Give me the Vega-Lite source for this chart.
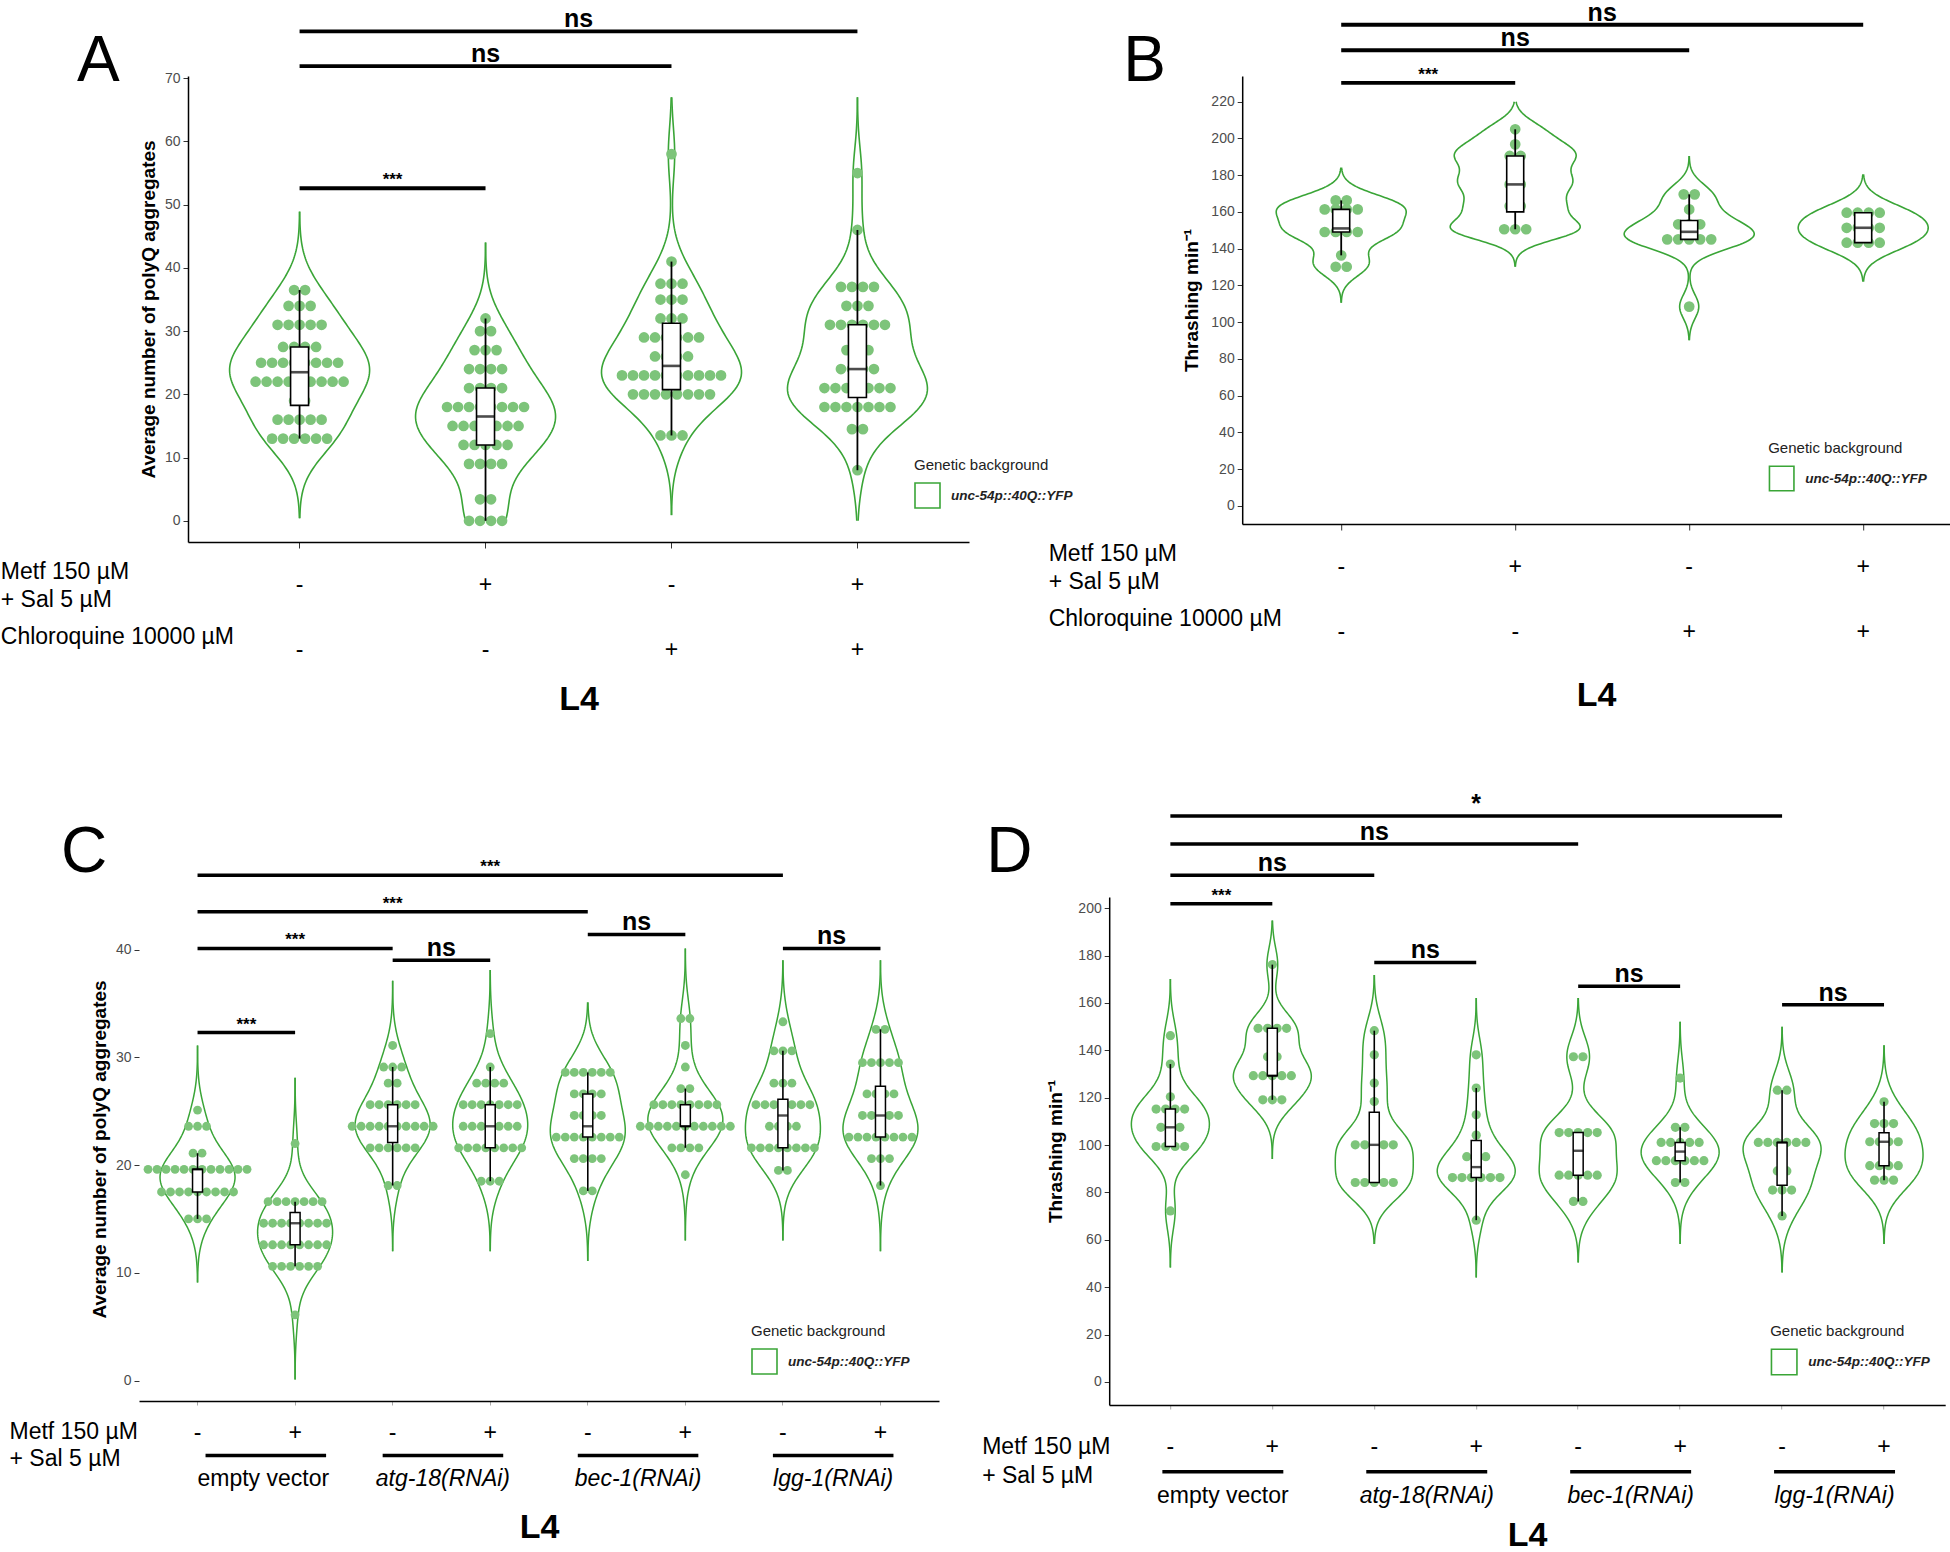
{
"$schema": "https://vega.github.io/schema/vega-lite/v6.json",
"background": "white",
"padding": 0,
"config": {
  "font": "Liberation Sans",
  "view": {"stroke": null},
  "axis": {"grid": false, "domainColor": "black", "domainWidth": 1.5, "tickColor": "#333333", "labelColor": "#4d4d4d", "titleColor": "black", "labelFont": "Liberation Sans", "titleFont": "Liberation Sans"},
  "legend": {"padding": 0}
},
"datasets": {
  "Aobs": [
    {"i":1,"v":13},{"i":1,"v":13},{"i":1,"v":13},{"i":1,"v":13},{"i":1,"v":13},{"i":1,"v":13},
    {"i":1,"v":16},{"i":1,"v":16},{"i":1,"v":16},{"i":1,"v":16},{"i":1,"v":16},
    {"i":1,"v":19},{"i":1,"v":19},
    {"i":1,"v":22},{"i":1,"v":22},{"i":1,"v":22},{"i":1,"v":22},{"i":1,"v":22},{"i":1,"v":22},{"i":1,"v":22},{"i":1,"v":22},{"i":1,"v":22},
    {"i":1,"v":25},{"i":1,"v":25},{"i":1,"v":25},{"i":1,"v":25},{"i":1,"v":25},{"i":1,"v":25},{"i":1,"v":25},{"i":1,"v":25},
    {"i":1,"v":27.5},{"i":1,"v":27.5},{"i":1,"v":27.5},{"i":1,"v":27.5},
    {"i":1,"v":31},{"i":1,"v":31},{"i":1,"v":31},{"i":1,"v":31},{"i":1,"v":31},
    {"i":1,"v":34},{"i":1,"v":34},{"i":1,"v":34},
    {"i":1,"v":36.5},{"i":1,"v":36.5},
    {"i":2,"v":0},{"i":2,"v":0},{"i":2,"v":0},{"i":2,"v":0},
    {"i":2,"v":3.4},{"i":2,"v":3.4},
    {"i":2,"v":9},{"i":2,"v":9},{"i":2,"v":9},{"i":2,"v":9},
    {"i":2,"v":12},{"i":2,"v":12},{"i":2,"v":12},{"i":2,"v":12},{"i":2,"v":12},
    {"i":2,"v":15},{"i":2,"v":15},{"i":2,"v":15},{"i":2,"v":15},{"i":2,"v":15},{"i":2,"v":15},{"i":2,"v":15},
    {"i":2,"v":18},{"i":2,"v":18},{"i":2,"v":18},{"i":2,"v":18},{"i":2,"v":18},{"i":2,"v":18},{"i":2,"v":18},{"i":2,"v":18},
    {"i":2,"v":21},{"i":2,"v":21},{"i":2,"v":21},{"i":2,"v":21},
    {"i":2,"v":24},{"i":2,"v":24},{"i":2,"v":24},{"i":2,"v":24},
    {"i":2,"v":27},{"i":2,"v":27},{"i":2,"v":27},
    {"i":2,"v":30},{"i":2,"v":30},
    {"i":2,"v":32},
    {"i":3,"v":13.5},{"i":3,"v":13.5},{"i":3,"v":13.5},
    {"i":3,"v":20},{"i":3,"v":20},{"i":3,"v":20},{"i":3,"v":20},{"i":3,"v":20},{"i":3,"v":20},{"i":3,"v":20},{"i":3,"v":20},
    {"i":3,"v":23},{"i":3,"v":23},{"i":3,"v":23},{"i":3,"v":23},{"i":3,"v":23},{"i":3,"v":23},{"i":3,"v":23},{"i":3,"v":23},{"i":3,"v":23},{"i":3,"v":23},
    {"i":3,"v":26},{"i":3,"v":26},{"i":3,"v":26},{"i":3,"v":26},
    {"i":3,"v":29},{"i":3,"v":29},{"i":3,"v":29},{"i":3,"v":29},{"i":3,"v":29},{"i":3,"v":29},
    {"i":3,"v":32},{"i":3,"v":32},{"i":3,"v":32},
    {"i":3,"v":35},{"i":3,"v":35},{"i":3,"v":35},
    {"i":3,"v":37.5},{"i":3,"v":37.5},{"i":3,"v":37.5},
    {"i":3,"v":41},
    {"i":3,"v":58},
    {"i":4,"v":8},
    {"i":4,"v":14.5},{"i":4,"v":14.5},
    {"i":4,"v":18},{"i":4,"v":18},{"i":4,"v":18},{"i":4,"v":18},{"i":4,"v":18},{"i":4,"v":18},{"i":4,"v":18},
    {"i":4,"v":21},{"i":4,"v":21},{"i":4,"v":21},{"i":4,"v":21},{"i":4,"v":21},{"i":4,"v":21},{"i":4,"v":21},
    {"i":4,"v":24},{"i":4,"v":24},{"i":4,"v":24},{"i":4,"v":24},
    {"i":4,"v":27},{"i":4,"v":27},{"i":4,"v":27},
    {"i":4,"v":31},{"i":4,"v":31},{"i":4,"v":31},{"i":4,"v":31},{"i":4,"v":31},{"i":4,"v":31},
    {"i":4,"v":34},{"i":4,"v":34},{"i":4,"v":34},
    {"i":4,"v":37},{"i":4,"v":37},{"i":4,"v":37},{"i":4,"v":37},
    {"i":4,"v":46},
    {"i":4,"v":55}
  ],
  "Bobs": [
    {"i":1,"v":130.2},{"i":1,"v":130.2},{"i":1,"v":136.4},
    {"i":1,"v":149.1},{"i":1,"v":149.1},{"i":1,"v":149.1},{"i":1,"v":149.1},{"i":1,"v":153},
    {"i":1,"v":161.4},{"i":1,"v":161.4},{"i":1,"v":161.4},{"i":1,"v":161.4},
    {"i":1,"v":166.3},{"i":1,"v":166.3},
    {"i":2,"v":150.6},{"i":2,"v":150.6},{"i":2,"v":150.6},
    {"i":2,"v":163.2},{"i":2,"v":163.2},{"i":2,"v":175},{"i":2,"v":175},{"i":2,"v":182},
    {"i":2,"v":190.5},{"i":2,"v":190.5},{"i":2,"v":196.8},{"i":2,"v":205},
    {"i":3,"v":108.5},
    {"i":3,"v":145.1},{"i":3,"v":145.1},{"i":3,"v":145.1},{"i":3,"v":145.1},{"i":3,"v":145.1},
    {"i":3,"v":153.3},{"i":3,"v":153.3},{"i":3,"v":153.3},
    {"i":3,"v":161.4},{"i":3,"v":169.6},{"i":3,"v":169.6},
    {"i":4,"v":143.3},{"i":4,"v":143.3},{"i":4,"v":143.3},{"i":4,"v":143.3},
    {"i":4,"v":151.4},{"i":4,"v":151.4},{"i":4,"v":151.4},{"i":4,"v":151.4},
    {"i":4,"v":159.6},{"i":4,"v":159.6},{"i":4,"v":159.6},{"i":4,"v":159.6}
  ],
  "Cobs": [
    {"i":1,"v":15},{"i":1,"v":15},{"i":1,"v":15},
    {"i":1,"v":17.5},{"i":1,"v":17.5},{"i":1,"v":17.5},{"i":1,"v":17.5},{"i":1,"v":17.5},{"i":1,"v":17.5},{"i":1,"v":17.5},{"i":1,"v":17.5},{"i":1,"v":17.5},
    {"i":1,"v":19.6},{"i":1,"v":19.6},{"i":1,"v":19.6},{"i":1,"v":19.6},{"i":1,"v":19.6},{"i":1,"v":19.6},{"i":1,"v":19.6},{"i":1,"v":19.6},{"i":1,"v":19.6},{"i":1,"v":19.6},{"i":1,"v":19.6},{"i":1,"v":19.6},
    {"i":1,"v":21.1},{"i":1,"v":21.1},
    {"i":1,"v":23.6},{"i":1,"v":23.6},{"i":1,"v":23.6},
    {"i":1,"v":25.1},
    {"i":2,"v":6.1},
    {"i":2,"v":10.6},{"i":2,"v":10.6},{"i":2,"v":10.6},{"i":2,"v":10.6},{"i":2,"v":10.6},{"i":2,"v":10.6},
    {"i":2,"v":12.6},{"i":2,"v":12.6},{"i":2,"v":12.6},{"i":2,"v":12.6},{"i":2,"v":12.6},{"i":2,"v":12.6},{"i":2,"v":12.6},{"i":2,"v":12.6},
    {"i":2,"v":14.6},{"i":2,"v":14.6},{"i":2,"v":14.6},{"i":2,"v":14.6},{"i":2,"v":14.6},{"i":2,"v":14.6},{"i":2,"v":14.6},{"i":2,"v":14.6},
    {"i":2,"v":16.6},{"i":2,"v":16.6},{"i":2,"v":16.6},{"i":2,"v":16.6},{"i":2,"v":16.6},{"i":2,"v":16.6},{"i":2,"v":16.6},
    {"i":2,"v":22},
    {"i":3,"v":18.1},{"i":3,"v":18.1},
    {"i":3,"v":21.6},{"i":3,"v":21.6},{"i":3,"v":21.6},{"i":3,"v":21.6},{"i":3,"v":21.6},{"i":3,"v":21.6},
    {"i":3,"v":23.6},{"i":3,"v":23.6},{"i":3,"v":23.6},{"i":3,"v":23.6},{"i":3,"v":23.6},{"i":3,"v":23.6},{"i":3,"v":23.6},{"i":3,"v":23.6},{"i":3,"v":23.6},{"i":3,"v":23.6},
    {"i":3,"v":25.6},{"i":3,"v":25.6},{"i":3,"v":25.6},{"i":3,"v":25.6},{"i":3,"v":25.6},{"i":3,"v":25.6},
    {"i":3,"v":27.6},{"i":3,"v":27.6},
    {"i":3,"v":29.1},{"i":3,"v":29.1},{"i":3,"v":29.1},
    {"i":3,"v":31.1},
    {"i":4,"v":18.5},{"i":4,"v":18.5},{"i":4,"v":18.5},
    {"i":4,"v":21.6},{"i":4,"v":21.6},{"i":4,"v":21.6},{"i":4,"v":21.6},{"i":4,"v":21.6},{"i":4,"v":21.6},{"i":4,"v":21.6},{"i":4,"v":21.6},
    {"i":4,"v":23.6},{"i":4,"v":23.6},{"i":4,"v":23.6},{"i":4,"v":23.6},{"i":4,"v":23.6},{"i":4,"v":23.6},{"i":4,"v":23.6},
    {"i":4,"v":25.6},{"i":4,"v":25.6},{"i":4,"v":25.6},{"i":4,"v":25.6},{"i":4,"v":25.6},{"i":4,"v":25.6},{"i":4,"v":25.6},
    {"i":4,"v":27.6},{"i":4,"v":27.6},{"i":4,"v":27.6},{"i":4,"v":27.6},
    {"i":4,"v":29.1},
    {"i":4,"v":32.2},
    {"i":5,"v":17.6},{"i":5,"v":17.6},
    {"i":5,"v":20.6},{"i":5,"v":20.6},{"i":5,"v":20.6},{"i":5,"v":20.6},
    {"i":5,"v":22.6},{"i":5,"v":22.6},{"i":5,"v":22.6},{"i":5,"v":22.6},{"i":5,"v":22.6},{"i":5,"v":22.6},{"i":5,"v":22.6},{"i":5,"v":22.6},
    {"i":5,"v":24.6},{"i":5,"v":24.6},{"i":5,"v":24.6},{"i":5,"v":24.6},
    {"i":5,"v":26.6},{"i":5,"v":26.6},{"i":5,"v":26.6},{"i":5,"v":26.6},
    {"i":5,"v":28.6},{"i":5,"v":28.6},{"i":5,"v":28.6},{"i":5,"v":28.6},{"i":5,"v":28.6},{"i":5,"v":28.6},
    {"i":6,"v":19.1},
    {"i":6,"v":21.6},{"i":6,"v":21.6},{"i":6,"v":21.6},{"i":6,"v":21.6},
    {"i":6,"v":23.6},{"i":6,"v":23.6},{"i":6,"v":23.6},{"i":6,"v":23.6},{"i":6,"v":23.6},{"i":6,"v":23.6},{"i":6,"v":23.6},{"i":6,"v":23.6},{"i":6,"v":23.6},{"i":6,"v":23.6},{"i":6,"v":23.6},
    {"i":6,"v":25.6},{"i":6,"v":25.6},{"i":6,"v":25.6},{"i":6,"v":25.6},{"i":6,"v":25.6},{"i":6,"v":25.6},{"i":6,"v":25.6},{"i":6,"v":25.6},
    {"i":6,"v":27.1},{"i":6,"v":27.1},
    {"i":6,"v":29.1},
    {"i":6,"v":31.1},
    {"i":6,"v":33.6},{"i":6,"v":33.6},
    {"i":7,"v":19.5},{"i":7,"v":19.5},
    {"i":7,"v":21.6},{"i":7,"v":21.6},{"i":7,"v":21.6},{"i":7,"v":21.6},{"i":7,"v":21.6},{"i":7,"v":21.6},{"i":7,"v":21.6},{"i":7,"v":21.6},
    {"i":7,"v":23.6},{"i":7,"v":23.6},{"i":7,"v":23.6},{"i":7,"v":23.6},
    {"i":7,"v":25.6},{"i":7,"v":25.6},{"i":7,"v":25.6},{"i":7,"v":25.6},{"i":7,"v":25.6},{"i":7,"v":25.6},{"i":7,"v":25.6},
    {"i":7,"v":27.6},{"i":7,"v":27.6},{"i":7,"v":27.6},
    {"i":7,"v":30.6},{"i":7,"v":30.6},{"i":7,"v":30.6},
    {"i":7,"v":33.3},
    {"i":8,"v":18.1},
    {"i":8,"v":20.6},{"i":8,"v":20.6},{"i":8,"v":20.6},
    {"i":8,"v":22.6},{"i":8,"v":22.6},{"i":8,"v":22.6},{"i":8,"v":22.6},{"i":8,"v":22.6},{"i":8,"v":22.6},{"i":8,"v":22.6},{"i":8,"v":22.6},
    {"i":8,"v":24.6},{"i":8,"v":24.6},{"i":8,"v":24.6},{"i":8,"v":24.6},{"i":8,"v":24.6},
    {"i":8,"v":26.6},{"i":8,"v":26.6},{"i":8,"v":26.6},{"i":8,"v":26.6},
    {"i":8,"v":29.5},{"i":8,"v":29.5},{"i":8,"v":29.5},{"i":8,"v":29.5},{"i":8,"v":29.5},
    {"i":8,"v":32.6},{"i":8,"v":32.6}
  ],
  "Dobs": [
    {"i":1,"v":72.2},
    {"i":1,"v":99.4},{"i":1,"v":99.4},{"i":1,"v":99.4},{"i":1,"v":99.4},
    {"i":1,"v":107.5},{"i":1,"v":107.5},{"i":1,"v":107.5},
    {"i":1,"v":115.2},{"i":1,"v":115.2},{"i":1,"v":115.2},{"i":1,"v":115.2},
    {"i":1,"v":120.4},{"i":1,"v":134.2},{"i":1,"v":146.2},
    {"i":2,"v":119.1},{"i":2,"v":119.1},{"i":2,"v":119.1},
    {"i":2,"v":129.3},{"i":2,"v":129.3},{"i":2,"v":129.3},{"i":2,"v":129.3},{"i":2,"v":129.3},
    {"i":2,"v":137.3},{"i":2,"v":137.3},
    {"i":2,"v":149.3},{"i":2,"v":149.3},{"i":2,"v":149.3},{"i":2,"v":149.3},
    {"i":2,"v":176.2},
    {"i":3,"v":84.2},{"i":3,"v":84.2},{"i":3,"v":84.2},{"i":3,"v":84.2},{"i":3,"v":84.2},
    {"i":3,"v":100.1},{"i":3,"v":100.1},{"i":3,"v":100.1},{"i":3,"v":100.1},{"i":3,"v":100.1},
    {"i":3,"v":118.4},{"i":3,"v":126.2},{"i":3,"v":138.1},{"i":3,"v":148.3},
    {"i":4,"v":68.3},
    {"i":4,"v":86.3},{"i":4,"v":86.3},{"i":4,"v":86.3},{"i":4,"v":86.3},{"i":4,"v":86.3},{"i":4,"v":86.3},
    {"i":4,"v":95.1},{"i":4,"v":95.1},{"i":4,"v":95.1},
    {"i":4,"v":104.2},{"i":4,"v":112.8},{"i":4,"v":124.1},{"i":4,"v":138.1},
    {"i":5,"v":76.2},{"i":5,"v":76.2},
    {"i":5,"v":87.3},{"i":5,"v":87.3},{"i":5,"v":87.3},{"i":5,"v":87.3},{"i":5,"v":87.3},
    {"i":5,"v":97.6},
    {"i":5,"v":105.3},{"i":5,"v":105.3},{"i":5,"v":105.3},{"i":5,"v":105.3},{"i":5,"v":105.3},
    {"i":5,"v":137.3},{"i":5,"v":137.3},
    {"i":6,"v":84.2},{"i":6,"v":84.2},
    {"i":6,"v":93.4},{"i":6,"v":93.4},{"i":6,"v":93.4},{"i":6,"v":93.4},{"i":6,"v":93.4},{"i":6,"v":93.4},
    {"i":6,"v":101.1},{"i":6,"v":101.1},{"i":6,"v":101.1},{"i":6,"v":101.1},{"i":6,"v":101.1},
    {"i":6,"v":107.5},{"i":6,"v":107.5},
    {"i":6,"v":128.3},
    {"i":7,"v":70.1},
    {"i":7,"v":81},{"i":7,"v":81},{"i":7,"v":81},
    {"i":7,"v":89.1},{"i":7,"v":89.1},
    {"i":7,"v":101.1},{"i":7,"v":101.1},{"i":7,"v":101.1},{"i":7,"v":101.1},{"i":7,"v":101.1},{"i":7,"v":101.1},
    {"i":7,"v":123.2},{"i":7,"v":123.2},
    {"i":8,"v":85.2},{"i":8,"v":85.2},{"i":8,"v":85.2},
    {"i":8,"v":91.3},{"i":8,"v":91.3},{"i":8,"v":91.3},{"i":8,"v":91.3},
    {"i":8,"v":101.4},{"i":8,"v":101.4},{"i":8,"v":101.4},{"i":8,"v":101.4},
    {"i":8,"v":109.1},{"i":8,"v":109.1},{"i":8,"v":109.1},
    {"i":8,"v":118.3}
  ],
  "Asig": [
    {"x1":1,"x2":2,"v":52.6,"lab":"***"},
    {"x1":1,"x2":3,"v":71.9,"lab":"ns"},
    {"x1":1,"x2":4,"v":77.4,"lab":"ns"}
  ],
  "Bsig": [
    {"x1":1,"x2":2,"v":230.3,"lab":"***"},
    {"x1":1,"x2":3,"v":248,"lab":"ns"},
    {"x1":1,"x2":4,"v":261.9,"lab":"ns"}
  ],
  "Csig": [
    {"x1":1,"x2":2,"v":32.3,"lab":"***"},
    {"x1":1,"x2":3,"v":40.1,"lab":"***"},
    {"x1":3,"x2":4,"v":39.0,"lab":"ns"},
    {"x1":1,"x2":5,"v":43.5,"lab":"***"},
    {"x1":5,"x2":6,"v":41.4,"lab":"ns"},
    {"x1":1,"x2":7,"v":46.9,"lab":"***"},
    {"x1":7,"x2":8,"v":40.1,"lab":"ns"}
  ],
  "Dsig": [
    {"x1":1,"x2":2,"v":201.9,"lab":"***"},
    {"x1":1,"x2":3,"v":213.9,"lab":"ns"},
    {"x1":1,"x2":5,"v":227.1,"lab":"ns"},
    {"x1":1,"x2":7,"v":238.9,"lab":"*"},
    {"x1":3,"x2":4,"v":177.1,"lab":"ns"},
    {"x1":5,"x2":6,"v":167.1,"lab":"ns"},
    {"x1":7,"x2":8,"v":159.3,"lab":"ns"}
  ],
  "ABtab": [
    {"i":1,"r":"metf","s":"-"},{"i":2,"r":"metf","s":"+"},{"i":3,"r":"metf","s":"-"},{"i":4,"r":"metf","s":"+"},
    {"i":1,"r":"chloro","s":"-"},{"i":2,"r":"chloro","s":"-"},{"i":3,"r":"chloro","s":"+"},{"i":4,"r":"chloro","s":"+"}
  ],
  "CDtab": [
    {"i":1,"r":"sign","s":"-"},{"i":2,"r":"sign","s":"+"},{"i":3,"r":"sign","s":"-"},{"i":4,"r":"sign","s":"+"},
    {"i":5,"r":"sign","s":"-"},{"i":6,"r":"sign","s":"+"},{"i":7,"r":"sign","s":"-"},{"i":8,"r":"sign","s":"+"}
  ],
  "CDgrp": [
    {"a":1,"b":2,"name":"empty vector"},
    {"a":3,"b":4,"name":"atg-18(RNAi)"},
    {"a":5,"b":6,"name":"bec-1(RNAi)"},
    {"a":7,"b":8,"name":"lgg-1(RNAi)"}
  ]
},
"columns": 1,
"spacing": 76,
"resolve": {"scale": {"stroke": "independent"}, "legend": {"stroke": "independent"}},
"concat": [
 {"columns": 2, "spacing": -24.8,
  "resolve": {"scale": {"stroke": "independent"}, "legend": {"stroke": "independent"}},
  "concat": [
  {"vconcat": [
   {"width": 830, "height": 466,
    "data": {"name": "Aobs"},
    "encoding": {"y": {"field": "v", "type": "quantitative", "scale": {"domain": [-3.35, 70.35], "nice": false, "zero": false}, "axis": {"offset": -49, "values": [0, 10, 20, 30, 40, 50, 60, 70], "title": "Average number of polyQ aggregates", "titleFontSize": 19, "titleFontWeight": "bold", "titlePadding": 6, "labelFontSize": 14, "tickSize": 5, "labelPadding": 3}}},
    "resolve": {"scale": {"x": "independent"}},
    "layer": [
     {"encoding": {"x": {"field": "i", "type": "ordinal", "scale": {"type": "band", "domain": [1, 2, 3, 4], "range": [49, 830], "paddingInner": 0, "paddingOuter": 0.1}, "axis": {"labels": false, "title": null, "tickSize": 6}}},
      "resolve": {"scale": {"xOffset": "independent"}},
      "layer": [
       {"transform": [{"filter": "datum.i == 1"}, {"density": "v", "groupby": ["i"], "bandwidth": 4.2, "extent": [0.4, 48.9], "steps": 150, "as": ["v", "d"]}, {"stack": "d", "groupby": ["i", "v"], "offset": "center", "as": ["s0", "s1"]}, {"fold": ["s0", "s1"], "as": ["side", "off"]}],
        "mark": {"type": "line", "strokeWidth": 1.6},
        "encoding": {"xOffset": {"field": "off", "type": "quantitative", "scale": {"range": [23, 163], "nice": false, "zero": false}},
         "detail": {"field": "side"}, "order": {"field": "v", "type": "quantitative"},
         "stroke": {"datum": "unc-54p::40Q::YFP", "type": "nominal", "scale": {"range": ["#3aa537"]},
          "legend": {"title": "Genetic background", "orient": "none", "legendX": 775, "legendY": 382, "symbolType": "square", "symbolSize": 625, "symbolStrokeWidth": 1.6, "symbolFillColor": "white", "symbolStrokeColor": "#3aa537", "titleFontSize": 15, "titleFontWeight": "normal", "titleColor": "#222222", "titlePadding": 9, "labelFontSize": 13.5, "labelFontWeight": "bold", "labelFontStyle": "italic", "labelColor": "#222222", "labelOffset": 10, "padding": 0}}}},
       {"transform": [{"filter": "datum.i == 2"}, {"density": "v", "groupby": ["i"], "bandwidth": 4.0, "extent": [0, 44], "steps": 150, "as": ["v", "d"]}, {"stack": "d", "groupby": ["i", "v"], "offset": "center", "as": ["s0", "s1"]}, {"fold": ["s0", "s1"], "as": ["side", "off"]}],
        "mark": {"type": "line", "strokeWidth": 1.6, "stroke": "#3aa537"},
        "encoding": {"xOffset": {"field": "off", "type": "quantitative", "scale": {"range": [23, 163], "nice": false, "zero": false}}, "detail": {"field": "side"}, "order": {"field": "v", "type": "quantitative"}}},
       {"transform": [{"filter": "datum.i == 3"}, {"density": "v", "groupby": ["i"], "bandwidth": 4.2, "extent": [0.9, 67], "steps": 150, "as": ["v", "d"]}, {"stack": "d", "groupby": ["i", "v"], "offset": "center", "as": ["s0", "s1"]}, {"fold": ["s0", "s1"], "as": ["side", "off"]}],
        "mark": {"type": "line", "strokeWidth": 1.6, "stroke": "#3aa537"},
        "encoding": {"xOffset": {"field": "off", "type": "quantitative", "scale": {"range": [23, 163], "nice": false, "zero": false}}, "detail": {"field": "side"}, "order": {"field": "v", "type": "quantitative"}}},
       {"transform": [{"filter": "datum.i == 4"}, {"density": "v", "groupby": ["i"], "bandwidth": 4.2, "extent": [0, 67], "steps": 150, "as": ["v", "d"]}, {"stack": "d", "groupby": ["i", "v"], "offset": "center", "as": ["s0", "s1"]}, {"fold": ["s0", "s1"], "as": ["side", "off"]}],
        "mark": {"type": "line", "strokeWidth": 1.6, "stroke": "#3aa537"},
        "encoding": {"xOffset": {"field": "off", "type": "quantitative", "scale": {"range": [23, 163], "nice": false, "zero": false}}, "detail": {"field": "side"}, "order": {"field": "v", "type": "quantitative"}}},
       {"transform": [{"window": [{"op": "count", "as": "one"}], "frame": [0, 0]}, {"stack": "one", "groupby": ["i", "v"], "offset": "center", "as": ["d0", "d1"]}],
        "mark": {"type": "circle", "size": 115, "color": "#7dc47a", "opacity": 1},
        "encoding": {"xOffset": {"field": "d0", "type": "quantitative", "scale": {"domain": [0, 20], "range": [43.5, 263.5], "nice": false, "zero": false}}}},
       {"mark": {"type": "boxplot", "extent": 1.5, "size": 18, "color": "white", "outliers": false, "ticks": false, "box": {"stroke": "black", "strokeWidth": 1.6, "fill": "white"}, "median": {"color": "black", "thickness": 2.6}, "rule": {"color": "black", "strokeWidth": 1.8}}}
      ]},
     {"layer": [
       {"data": {"name": "Asig"}, "mark": {"type": "rule", "strokeWidth": 3.8, "color": "black"},
        "encoding": {"x": {"field": "x1", "type": "quantitative", "scale": {"domain": [0.4, 4.6], "range": [49, 830], "nice": false, "zero": false}, "axis": null}, "x2": {"field": "x2"}}},
       {"data": {"name": "Asig"}, "transform": [{"fold": ["x1", "x2"], "as": ["k", "xv"]}, {"aggregate": [{"op": "mean", "field": "xv", "as": "xm"}], "groupby": ["v", "lab"]}],
        "mark": {"type": "text", "baseline": "bottom", "fontWeight": "bold", "color": "black", "dy": 1},
        "encoding": {"x": {"field": "xm", "type": "quantitative"}, "text": {"field": "lab"}, "size": {"condition": {"test": "datum.lab == '***'", "value": 17}, "value": 25}}},
       {"data": {"name": "Asig"}, "transform": [{"aggregate": [{"op": "min", "field": "x1", "as": "xa"}, {"op": "max", "field": "v", "as": "v"}]}],
        "mark": {"type": "text", "align": "left", "baseline": "alphabetic", "fontSize": 64, "color": "black", "dx": -222.6, "dy": 49.6},
        "encoding": {"x": {"field": "xa", "type": "quantitative"}, "text": {"value": "A"}}}
      ]}
    ]},
   {"width": 830, "height": 130, "data": {"name": "ABtab"},
    "mark": {"type": "text", "fontSize": 23, "color": "black"},
    "encoding": {
     "x": {"field": "i", "type": "quantitative", "scale": {"domain": [0.4, 4.6], "range": [49, 830], "nice": false, "zero": false}, "axis": {"title": "L4", "labels": false, "ticks": false, "domain": false, "titleFontSize": 34, "titleFontWeight": "bold", "titleColor": "black", "titlePadding": 0}},
     "y": {"field": "r", "type": "nominal", "scale": {"domain": ["metf", "chloro"], "paddingInner": 0, "paddingOuter": 0}, "axis": {"title": null, "domain": false, "ticks": false, "labelAlign": "left", "labelPadding": 138.7, "labelOffset": -13, "labelFontSize": 23, "labelColor": "black", "labelLimit": 400, "labelLineHeight": 28, "labelExpr": "datum.value == 'metf' ? ['Metf 150 µM', '+ Sal 5 µM'] : 'Chloroquine 10000 µM'"}},
     "text": {"field": "s"}}}
  ], "spacing": 3},
  {"vconcat": [
   {"width": 708, "height": 448,
    "data": {"name": "Bobs"},
    "encoding": {"y": {"field": "v", "type": "quantitative", "scale": {"domain": [-9.8, 234.0], "nice": false, "zero": false}, "axis": {"values": [0, 20, 40, 60, 80, 100, 120, 140, 160, 180, 200, 220], "title": "Thrashing min⁻¹", "titleFontSize": 19, "titleFontWeight": "bold", "titlePadding": 9, "labelFontSize": 14, "tickSize": 5, "labelPadding": 3}}},
    "resolve": {"scale": {"x": "independent"}},
    "layer": [
     {"encoding": {"x": {"field": "i", "type": "ordinal", "scale": {"type": "band", "domain": [1, 2, 3, 4], "paddingInner": 0, "paddingOuter": 0.0345, "align": 1}, "axis": {"labels": false, "title": null, "tickSize": 6}}},
      "resolve": {"scale": {"xOffset": "independent"}},
      "layer": [
       {"transform": [{"filter": "datum.i == 1"}, {"density": "v", "groupby": ["i"], "bandwidth": 6.2, "extent": [110.6, 184.1], "steps": 150, "as": ["v", "d"]}, {"stack": "d", "groupby": ["i", "v"], "offset": "center", "as": ["s0", "s1"]}, {"fold": ["s0", "s1"], "as": ["side", "off"]}],
        "mark": {"type": "line", "strokeWidth": 1.6},
        "encoding": {"xOffset": {"field": "off", "type": "quantitative", "scale": {"range": [22, 152], "nice": false, "zero": false}},
         "detail": {"field": "side"}, "order": {"field": "v", "type": "quantitative"},
         "stroke": {"datum": "unc-54p::40Q::YFP", "type": "nominal", "scale": {"range": ["#3aa537"]},
          "legend": {"title": "Genetic background", "orient": "none", "legendX": 526, "legendY": 365, "symbolType": "square", "symbolSize": 600, "symbolStrokeWidth": 1.6, "symbolFillColor": "white", "symbolStrokeColor": "#3aa537", "titleFontSize": 15, "titleFontWeight": "normal", "titleColor": "#222222", "titlePadding": 9, "labelFontSize": 13.5, "labelFontWeight": "bold", "labelFontStyle": "italic", "labelColor": "#222222", "labelOffset": 10, "padding": 0}}}},
       {"transform": [{"filter": "datum.i == 2"}, {"density": "v", "groupby": ["i"], "bandwidth": 6.0, "extent": [130.2, 220], "steps": 150, "as": ["v", "d"]}, {"stack": "d", "groupby": ["i", "v"], "offset": "center", "as": ["s0", "s1"]}, {"fold": ["s0", "s1"], "as": ["side", "off"]}],
        "mark": {"type": "line", "strokeWidth": 1.6, "stroke": "#3aa537"},
        "encoding": {"xOffset": {"field": "off", "type": "quantitative", "scale": {"range": [22, 152], "nice": false, "zero": false}}, "detail": {"field": "side"}, "order": {"field": "v", "type": "quantitative"}}},
       {"transform": [{"filter": "datum.i == 3"}, {"density": "v", "groupby": ["i"], "bandwidth": 6.5, "extent": [90.2, 190.5], "steps": 150, "as": ["v", "d"]}, {"stack": "d", "groupby": ["i", "v"], "offset": "center", "as": ["s0", "s1"]}, {"fold": ["s0", "s1"], "as": ["side", "off"]}],
        "mark": {"type": "line", "strokeWidth": 1.6, "stroke": "#3aa537"},
        "encoding": {"xOffset": {"field": "off", "type": "quantitative", "scale": {"range": [22, 152], "nice": false, "zero": false}}, "detail": {"field": "side"}, "order": {"field": "v", "type": "quantitative"}}},
       {"transform": [{"filter": "datum.i == 4"}, {"density": "v", "groupby": ["i"], "bandwidth": 7.0, "extent": [122.1, 180.5], "steps": 150, "as": ["v", "d"]}, {"stack": "d", "groupby": ["i", "v"], "offset": "center", "as": ["s0", "s1"]}, {"fold": ["s0", "s1"], "as": ["side", "off"]}],
        "mark": {"type": "line", "strokeWidth": 1.6, "stroke": "#3aa537"},
        "encoding": {"xOffset": {"field": "off", "type": "quantitative", "scale": {"range": [22, 152], "nice": false, "zero": false}}, "detail": {"field": "side"}, "order": {"field": "v", "type": "quantitative"}}},
       {"transform": [{"window": [{"op": "count", "as": "one"}], "frame": [0, 0]}, {"stack": "one", "groupby": ["i", "v"], "offset": "center", "as": ["d0", "d1"]}],
        "mark": {"type": "circle", "size": 115, "color": "#7dc47a", "opacity": 1},
        "encoding": {"xOffset": {"field": "d0", "type": "quantitative", "scale": {"domain": [0, 20], "range": [65, 285], "nice": false, "zero": false}}}},
       {"mark": {"type": "boxplot", "extent": 1.5, "size": 17, "color": "white", "outliers": false, "ticks": false, "box": {"stroke": "black", "strokeWidth": 1.6, "fill": "white"}, "median": {"color": "black", "thickness": 2.6}, "rule": {"color": "black", "strokeWidth": 1.8}}}
      ]},
     {"layer": [
       {"data": {"name": "Bsig"}, "mark": {"type": "rule", "strokeWidth": 3.8, "color": "black"},
        "encoding": {"x": {"field": "x1", "type": "quantitative", "scale": {"domain": [0.431, 4.5], "nice": false, "zero": false}, "axis": null}, "x2": {"field": "x2"}}},
       {"data": {"name": "Bsig"}, "transform": [{"fold": ["x1", "x2"], "as": ["k", "xv"]}, {"aggregate": [{"op": "mean", "field": "xv", "as": "xm"}], "groupby": ["v", "lab"]}],
        "mark": {"type": "text", "baseline": "bottom", "fontWeight": "bold", "color": "black", "dy": 1},
        "encoding": {"x": {"field": "xm", "type": "quantitative"}, "text": {"field": "lab"}, "size": {"condition": {"test": "datum.lab == '***'", "value": 17}, "value": 25}}},
       {"data": {"name": "Bsig"}, "transform": [{"aggregate": [{"op": "min", "field": "x1", "as": "xa"}, {"op": "max", "field": "v", "as": "v"}]}],
        "mark": {"type": "text", "align": "left", "baseline": "alphabetic", "fontSize": 64, "color": "black", "dx": -218, "dy": 56.2},
        "encoding": {"x": {"field": "xa", "type": "quantitative"}, "text": {"value": "B"}}}
      ]}
    ]},
   {"width": 708, "height": 130, "data": {"name": "ABtab"},
    "mark": {"type": "text", "fontSize": 23, "color": "black"},
    "encoding": {
     "x": {"field": "i", "type": "quantitative", "scale": {"domain": [0.431, 4.5], "nice": false, "zero": false}, "axis": {"title": "L4", "labels": false, "ticks": false, "domain": false, "titleFontSize": 34, "titleFontWeight": "bold", "titleColor": "black", "titlePadding": 14}},
     "y": {"field": "r", "type": "nominal", "scale": {"domain": ["metf", "chloro"], "paddingInner": 0, "paddingOuter": 0}, "axis": {"title": null, "domain": false, "ticks": false, "labelAlign": "left", "labelPadding": 194, "labelOffset": -14, "labelFontSize": 23, "labelColor": "black", "labelLimit": 400, "labelLineHeight": 28, "labelExpr": "datum.value == 'metf' ? ['Metf 150 µM', '+ Sal 5 µM'] : 'Chloroquine 10000 µM'"}},
     "text": {"field": "s"}}}
  ], "spacing": 3.5}
 ]},
 {"columns": 2, "spacing": 42.2,
  "resolve": {"scale": {"stroke": "independent"}, "legend": {"stroke": "independent"}},
  "concat": [
  {"vconcat": [
   {"width": 800, "height": 504,
    "data": {"name": "Cobs"},
    "encoding": {"y": {"field": "v", "type": "quantitative", "scale": {"domain": [-1.9, 44.88], "nice": false, "zero": false}, "axis": {"domain": false, "values": [0, 10, 20, 30, 40], "title": "Average number of polyQ aggregates", "titleFontSize": 19, "titleFontWeight": "bold", "titlePadding": 6, "labelFontSize": 14, "tickSize": 5, "labelPadding": 3}}},
    "resolve": {"scale": {"x": "independent"}},
    "layer": [
     {"encoding": {"x": {"field": "i", "type": "ordinal", "scale": {"type": "band", "domain": [1, 2, 3, 4, 5, 6, 7, 8], "paddingInner": 0, "paddingOuter": 0.1}, "axis": {"labels": false, "title": null, "tickSize": 4, "tickColor": "#aaaaaa"}}},
      "resolve": {"scale": {"xOffset": "independent"}},
      "layer": [
       {"transform": [{"filter": "datum.i == 1"}, {"density": "v", "groupby": ["i"], "bandwidth": 2.0, "extent": [9.1, 31.1], "steps": 150, "as": ["v", "d"]}, {"stack": "d", "groupby": ["i", "v"], "offset": "center", "as": ["s0", "s1"]}, {"fold": ["s0", "s1"], "as": ["side", "off"]}],
        "mark": {"type": "line", "strokeWidth": 1.5},
        "encoding": {"xOffset": {"field": "off", "type": "quantitative", "scale": {"range": [11.28, 86.28], "nice": false, "zero": false}},
         "detail": {"field": "side"}, "order": {"field": "v", "type": "quantitative"},
         "stroke": {"datum": "unc-54p::40Q::YFP", "type": "nominal", "scale": {"range": ["#3aa537"]},
          "legend": {"title": "Genetic background", "orient": "none", "legendX": 612, "legendY": 427, "symbolType": "square", "symbolSize": 625, "symbolStrokeWidth": 1.6, "symbolFillColor": "white", "symbolStrokeColor": "#3aa537", "titleFontSize": 15, "titleFontWeight": "normal", "titleColor": "#222222", "titlePadding": 9, "labelFontSize": 13.5, "labelFontWeight": "bold", "labelFontStyle": "italic", "labelColor": "#222222", "labelOffset": 10, "padding": 0}}}},
       {"transform": [{"filter": "datum.i == 2"}, {"density": "v", "groupby": ["i"], "bandwidth": 2.0, "extent": [0.1, 28.1], "steps": 150, "as": ["v", "d"]}, {"stack": "d", "groupby": ["i", "v"], "offset": "center", "as": ["s0", "s1"]}, {"fold": ["s0", "s1"], "as": ["side", "off"]}],
        "mark": {"type": "line", "strokeWidth": 1.5, "stroke": "#3aa537"},
        "encoding": {"xOffset": {"field": "off", "type": "quantitative", "scale": {"range": [11.28, 86.28], "nice": false, "zero": false}}, "detail": {"field": "side"}, "order": {"field": "v", "type": "quantitative"}}},
       {"transform": [{"filter": "datum.i == 3"}, {"density": "v", "groupby": ["i"], "bandwidth": 2.0, "extent": [12.0, 37.1], "steps": 150, "as": ["v", "d"]}, {"stack": "d", "groupby": ["i", "v"], "offset": "center", "as": ["s0", "s1"]}, {"fold": ["s0", "s1"], "as": ["side", "off"]}],
        "mark": {"type": "line", "strokeWidth": 1.5, "stroke": "#3aa537"},
        "encoding": {"xOffset": {"field": "off", "type": "quantitative", "scale": {"range": [11.28, 86.28], "nice": false, "zero": false}}, "detail": {"field": "side"}, "order": {"field": "v", "type": "quantitative"}}},
       {"transform": [{"filter": "datum.i == 4"}, {"density": "v", "groupby": ["i"], "bandwidth": 2.1, "extent": [12.0, 38.1], "steps": 150, "as": ["v", "d"]}, {"stack": "d", "groupby": ["i", "v"], "offset": "center", "as": ["s0", "s1"]}, {"fold": ["s0", "s1"], "as": ["side", "off"]}],
        "mark": {"type": "line", "strokeWidth": 1.5, "stroke": "#3aa537"},
        "encoding": {"xOffset": {"field": "off", "type": "quantitative", "scale": {"range": [11.28, 86.28], "nice": false, "zero": false}}, "detail": {"field": "side"}, "order": {"field": "v", "type": "quantitative"}}},
       {"transform": [{"filter": "datum.i == 5"}, {"density": "v", "groupby": ["i"], "bandwidth": 2.2, "extent": [11.1, 35.1], "steps": 150, "as": ["v", "d"]}, {"stack": "d", "groupby": ["i", "v"], "offset": "center", "as": ["s0", "s1"]}, {"fold": ["s0", "s1"], "as": ["side", "off"]}],
        "mark": {"type": "line", "strokeWidth": 1.5, "stroke": "#3aa537"},
        "encoding": {"xOffset": {"field": "off", "type": "quantitative", "scale": {"range": [11.28, 86.28], "nice": false, "zero": false}}, "detail": {"field": "side"}, "order": {"field": "v", "type": "quantitative"}}},
       {"transform": [{"filter": "datum.i == 6"}, {"density": "v", "groupby": ["i"], "bandwidth": 2.1, "extent": [13.0, 40.1], "steps": 150, "as": ["v", "d"]}, {"stack": "d", "groupby": ["i", "v"], "offset": "center", "as": ["s0", "s1"]}, {"fold": ["s0", "s1"], "as": ["side", "off"]}],
        "mark": {"type": "line", "strokeWidth": 1.5, "stroke": "#3aa537"},
        "encoding": {"xOffset": {"field": "off", "type": "quantitative", "scale": {"range": [11.28, 86.28], "nice": false, "zero": false}}, "detail": {"field": "side"}, "order": {"field": "v", "type": "quantitative"}}},
       {"transform": [{"filter": "datum.i == 7"}, {"density": "v", "groupby": ["i"], "bandwidth": 2.1, "extent": [13.0, 39.0], "steps": 150, "as": ["v", "d"]}, {"stack": "d", "groupby": ["i", "v"], "offset": "center", "as": ["s0", "s1"]}, {"fold": ["s0", "s1"], "as": ["side", "off"]}],
        "mark": {"type": "line", "strokeWidth": 1.5, "stroke": "#3aa537"},
        "encoding": {"xOffset": {"field": "off", "type": "quantitative", "scale": {"range": [11.28, 86.28], "nice": false, "zero": false}}, "detail": {"field": "side"}, "order": {"field": "v", "type": "quantitative"}}},
       {"transform": [{"filter": "datum.i == 8"}, {"density": "v", "groupby": ["i"], "bandwidth": 2.1, "extent": [12.0, 39.0], "steps": 150, "as": ["v", "d"]}, {"stack": "d", "groupby": ["i", "v"], "offset": "center", "as": ["s0", "s1"]}, {"fold": ["s0", "s1"], "as": ["side", "off"]}],
        "mark": {"type": "line", "strokeWidth": 1.5, "stroke": "#3aa537"},
        "encoding": {"xOffset": {"field": "off", "type": "quantitative", "scale": {"range": [11.28, 86.28], "nice": false, "zero": false}}, "detail": {"field": "side"}, "order": {"field": "v", "type": "quantitative"}}},
       {"transform": [{"window": [{"op": "count", "as": "one"}], "frame": [0, 0]}, {"stack": "one", "groupby": ["i", "v"], "offset": "center", "as": ["d0", "d1"]}],
        "mark": {"type": "circle", "size": 78, "color": "#7dc47a", "opacity": 1},
        "encoding": {"xOffset": {"field": "d0", "type": "quantitative", "scale": {"domain": [0, 20], "range": [-0.72, 179.28], "nice": false, "zero": false}}}},
       {"mark": {"type": "boxplot", "extent": 1.5, "size": 10, "color": "white", "outliers": false, "ticks": false, "box": {"stroke": "black", "strokeWidth": 1.5, "fill": "white"}, "median": {"color": "black", "thickness": 2.4}, "rule": {"color": "black", "strokeWidth": 1.6}}}
      ]},
     {"layer": [
       {"data": {"name": "Csig"}, "mark": {"type": "rule", "strokeWidth": 3.5, "color": "black"},
        "encoding": {"x": {"field": "x1", "type": "quantitative", "scale": {"domain": [0.4, 8.6], "nice": false, "zero": false}, "axis": null}, "x2": {"field": "x2"}}},
       {"data": {"name": "Csig"}, "transform": [{"fold": ["x1", "x2"], "as": ["k", "xv"]}, {"aggregate": [{"op": "mean", "field": "xv", "as": "xm"}], "groupby": ["v", "lab"]}],
        "mark": {"type": "text", "baseline": "bottom", "fontWeight": "bold", "color": "black", "dy": 1},
        "encoding": {"x": {"field": "xm", "type": "quantitative"}, "text": {"field": "lab"}, "size": {"condition": {"test": "datum.lab == '***'", "value": 17}, "value": 25}}},
       {"data": {"values": [{"panel": "C"}]},
        "mark": {"type": "rule", "color": "black", "strokeWidth": 1.5},
        "encoding": {"x": {"datum": 0.4, "type": "quantitative"}, "y": {"datum": -1.9, "type": "quantitative"}, "y2": {"datum": 42}}},
       {"data": {"name": "Csig"}, "transform": [{"aggregate": [{"op": "min", "field": "x1", "as": "xa"}, {"op": "max", "field": "v", "as": "v"}]}],
        "mark": {"type": "text", "align": "left", "baseline": "alphabetic", "fontSize": 64, "color": "black", "dx": -136.5, "dy": -3.2},
        "encoding": {"x": {"field": "xa", "type": "quantitative"}, "text": {"value": "C"}}}
      ]}
    ]},
   {"width": 800, "height": 69,
    "layer": [
     {"data": {"name": "CDtab"}, "mark": {"type": "text", "fontSize": 23, "color": "black"},
      "encoding": {
       "x": {"field": "i", "type": "quantitative", "scale": {"domain": [0.4, 8.6], "nice": false, "zero": false}, "axis": {"title": "L4", "labels": false, "ticks": false, "domain": false, "titleFontSize": 34, "titleFontWeight": "bold", "titleColor": "black", "titlePadding": 20}},
       "y": {"field": "r", "type": "nominal", "scale": {"domain": ["sign", "ul", "name"], "paddingInner": 0, "paddingOuter": 0}, "axis": {"title": null, "domain": false, "ticks": false, "labelAlign": "left", "labelPadding": 130, "labelOffset": -1, "labelFontSize": 23, "labelColor": "black", "labelLimit": 400, "labelLineHeight": 27, "labelExpr": "datum.value == 'sign' ? ['Metf 150 µM', '+ Sal 5 µM'] : ''"}},
       "text": {"field": "s"}}},
     {"data": {"name": "CDgrp"}, "transform": [{"filter": "datum.name == 'empty vector'"}],
      "mark": {"type": "rule", "strokeWidth": 3.5, "color": "black", "xOffset": 8, "x2Offset": 31},
      "encoding": {"x": {"field": "a", "type": "quantitative"}, "x2": {"field": "b"}, "y": {"datum": "ul", "type": "nominal"}}},
     {"data": {"name": "CDgrp"}, "transform": [{"filter": "datum.name != 'empty vector'"}],
      "mark": {"type": "rule", "strokeWidth": 3.5, "color": "black", "xOffset": -10, "x2Offset": 13},
      "encoding": {"x": {"field": "a", "type": "quantitative"}, "x2": {"field": "b"}, "y": {"datum": "ul", "type": "nominal"}}},
     {"data": {"name": "CDgrp"}, "transform": [{"filter": "datum.name == 'empty vector'"}, {"fold": ["a", "b"], "as": ["k", "xv"]}, {"aggregate": [{"op": "mean", "field": "xv", "as": "xm"}], "groupby": ["name"]}],
      "mark": {"type": "text", "fontSize": 23, "color": "black", "dx": 17},
      "encoding": {"x": {"field": "xm", "type": "quantitative"}, "y": {"datum": "name", "type": "nominal"}, "text": {"field": "name"}}},
     {"data": {"name": "CDgrp"}, "transform": [{"filter": "datum.name != 'empty vector'"}, {"fold": ["a", "b"], "as": ["k", "xv"]}, {"aggregate": [{"op": "mean", "field": "xv", "as": "xm"}], "groupby": ["name"]}],
      "mark": {"type": "text", "fontSize": 23, "color": "black", "fontStyle": "italic", "dx": 1.5},
      "encoding": {"x": {"field": "xm", "type": "quantitative"}, "y": {"datum": "name", "type": "nominal"}, "text": {"field": "name"}}}
    ]}
  ], "spacing": 14},
  {"vconcat": [
   {"width": 836, "height": 508,
    "data": {"name": "Dobs"},
    "encoding": {"y": {"field": "v", "type": "quantitative", "scale": {"domain": [-9.75, 204.75], "nice": false, "zero": false}, "axis": {"values": [0, 20, 40, 60, 80, 100, 120, 140, 160, 180, 200], "title": "Thrashing min⁻¹", "titleFontSize": 19, "titleFontWeight": "bold", "titlePadding": 12, "labelFontSize": 14, "tickSize": 5, "labelPadding": 3}}},
    "resolve": {"scale": {"x": "independent"}},
    "layer": [
     {"encoding": {"x": {"field": "i", "type": "ordinal", "scale": {"type": "band", "domain": [1, 2, 3, 4, 5, 6, 7, 8], "paddingInner": 0, "paddingOuter": 0.1}, "axis": {"labels": false, "title": null, "tickSize": 4, "tickColor": "#aaaaaa"}}},
      "resolve": {"scale": {"xOffset": "independent"}},
      "layer": [
       {"transform": [{"filter": "datum.i == 1"}, {"density": "v", "groupby": ["i"], "bandwidth": 8.0, "extent": [48.3, 170.1], "steps": 150, "as": ["v", "d"]}, {"stack": "d", "groupby": ["i", "v"], "offset": "center", "as": ["s0", "s1"]}, {"fold": ["s0", "s1"], "as": ["side", "off"]}],
        "mark": {"type": "line", "strokeWidth": 1.5},
        "encoding": {"xOffset": {"field": "off", "type": "quantitative", "scale": {"range": [11.98, 89.98], "nice": false, "zero": false}},
         "detail": {"field": "side"}, "order": {"field": "v", "type": "quantitative"},
         "stroke": {"datum": "unc-54p::40Q::YFP", "type": "nominal", "scale": {"range": ["#3aa537"]},
          "legend": {"title": "Genetic background", "orient": "none", "legendX": 661, "legendY": 427, "symbolType": "square", "symbolSize": 650, "symbolStrokeWidth": 1.6, "symbolFillColor": "white", "symbolStrokeColor": "#3aa537", "titleFontSize": 15, "titleFontWeight": "normal", "titleColor": "#222222", "titlePadding": 9, "labelFontSize": 13.5, "labelFontWeight": "bold", "labelFontStyle": "italic", "labelColor": "#222222", "labelOffset": 10, "padding": 0}}}},
       {"transform": [{"filter": "datum.i == 2"}, {"density": "v", "groupby": ["i"], "bandwidth": 7.2, "extent": [94.1, 194.8], "steps": 150, "as": ["v", "d"]}, {"stack": "d", "groupby": ["i", "v"], "offset": "center", "as": ["s0", "s1"]}, {"fold": ["s0", "s1"], "as": ["side", "off"]}],
        "mark": {"type": "line", "strokeWidth": 1.5, "stroke": "#3aa537"},
        "encoding": {"xOffset": {"field": "off", "type": "quantitative", "scale": {"range": [11.98, 89.98], "nice": false, "zero": false}}, "detail": {"field": "side"}, "order": {"field": "v", "type": "quantitative"}}},
       {"transform": [{"filter": "datum.i == 3"}, {"density": "v", "groupby": ["i"], "bandwidth": 8.2, "extent": [58.2, 171.8], "steps": 150, "as": ["v", "d"]}, {"stack": "d", "groupby": ["i", "v"], "offset": "center", "as": ["s0", "s1"]}, {"fold": ["s0", "s1"], "as": ["side", "off"]}],
        "mark": {"type": "line", "strokeWidth": 1.5, "stroke": "#3aa537"},
        "encoding": {"xOffset": {"field": "off", "type": "quantitative", "scale": {"range": [11.98, 89.98], "nice": false, "zero": false}}, "detail": {"field": "side"}, "order": {"field": "v", "type": "quantitative"}}},
       {"transform": [{"filter": "datum.i == 4"}, {"density": "v", "groupby": ["i"], "bandwidth": 8.0, "extent": [44.1, 162.1], "steps": 150, "as": ["v", "d"]}, {"stack": "d", "groupby": ["i", "v"], "offset": "center", "as": ["s0", "s1"]}, {"fold": ["s0", "s1"], "as": ["side", "off"]}],
        "mark": {"type": "line", "strokeWidth": 1.5, "stroke": "#3aa537"},
        "encoding": {"xOffset": {"field": "off", "type": "quantitative", "scale": {"range": [11.98, 89.98], "nice": false, "zero": false}}, "detail": {"field": "side"}, "order": {"field": "v", "type": "quantitative"}}},
       {"transform": [{"filter": "datum.i == 5"}, {"density": "v", "groupby": ["i"], "bandwidth": 8.4, "extent": [50.4, 162.1], "steps": 150, "as": ["v", "d"]}, {"stack": "d", "groupby": ["i", "v"], "offset": "center", "as": ["s0", "s1"]}, {"fold": ["s0", "s1"], "as": ["side", "off"]}],
        "mark": {"type": "line", "strokeWidth": 1.5, "stroke": "#3aa537"},
        "encoding": {"xOffset": {"field": "off", "type": "quantitative", "scale": {"range": [11.98, 89.98], "nice": false, "zero": false}}, "detail": {"field": "side"}, "order": {"field": "v", "type": "quantitative"}}},
       {"transform": [{"filter": "datum.i == 6"}, {"density": "v", "groupby": ["i"], "bandwidth": 8.3, "extent": [58.2, 152.1], "steps": 150, "as": ["v", "d"]}, {"stack": "d", "groupby": ["i", "v"], "offset": "center", "as": ["s0", "s1"]}, {"fold": ["s0", "s1"], "as": ["side", "off"]}],
        "mark": {"type": "line", "strokeWidth": 1.5, "stroke": "#3aa537"},
        "encoding": {"xOffset": {"field": "off", "type": "quantitative", "scale": {"range": [11.98, 89.98], "nice": false, "zero": false}}, "detail": {"field": "side"}, "order": {"field": "v", "type": "quantitative"}}},
       {"transform": [{"filter": "datum.i == 7"}, {"density": "v", "groupby": ["i"], "bandwidth": 8.4, "extent": [46.2, 150.0], "steps": 150, "as": ["v", "d"]}, {"stack": "d", "groupby": ["i", "v"], "offset": "center", "as": ["s0", "s1"]}, {"fold": ["s0", "s1"], "as": ["side", "off"]}],
        "mark": {"type": "line", "strokeWidth": 1.5, "stroke": "#3aa537"},
        "encoding": {"xOffset": {"field": "off", "type": "quantitative", "scale": {"range": [11.98, 89.98], "nice": false, "zero": false}}, "detail": {"field": "side"}, "order": {"field": "v", "type": "quantitative"}}},
       {"transform": [{"filter": "datum.i == 8"}, {"density": "v", "groupby": ["i"], "bandwidth": 8.5, "extent": [58.2, 142.2], "steps": 150, "as": ["v", "d"]}, {"stack": "d", "groupby": ["i", "v"], "offset": "center", "as": ["s0", "s1"]}, {"fold": ["s0", "s1"], "as": ["side", "off"]}],
        "mark": {"type": "line", "strokeWidth": 1.5, "stroke": "#3aa537"},
        "encoding": {"xOffset": {"field": "off", "type": "quantitative", "scale": {"range": [11.98, 89.98], "nice": false, "zero": false}}, "detail": {"field": "side"}, "order": {"field": "v", "type": "quantitative"}}},
       {"transform": [{"window": [{"op": "count", "as": "one"}], "frame": [0, 0]}, {"stack": "one", "groupby": ["i", "v"], "offset": "center", "as": ["d0", "d1"]}],
        "mark": {"type": "circle", "size": 85, "color": "#7dc47a", "opacity": 1},
        "encoding": {"xOffset": {"field": "d0", "type": "quantitative", "scale": {"domain": [0, 20], "range": [27.23, 217.23], "nice": false, "zero": false}}}},
       {"mark": {"type": "boxplot", "extent": 1.5, "size": 10, "color": "white", "outliers": false, "ticks": false, "box": {"stroke": "black", "strokeWidth": 1.5, "fill": "white"}, "median": {"color": "black", "thickness": 2.4}, "rule": {"color": "black", "strokeWidth": 1.6}}}
      ]},
     {"layer": [
       {"data": {"name": "Dsig"}, "mark": {"type": "rule", "strokeWidth": 3.5, "color": "black"},
        "encoding": {"x": {"field": "x1", "type": "quantitative", "scale": {"domain": [0.4, 8.6], "nice": false, "zero": false}, "axis": null}, "x2": {"field": "x2"}}},
       {"data": {"name": "Dsig"}, "transform": [{"fold": ["x1", "x2"], "as": ["k", "xv"]}, {"aggregate": [{"op": "mean", "field": "xv", "as": "xm"}], "groupby": ["v", "lab"]}],
        "mark": {"type": "text", "baseline": "bottom", "fontWeight": "bold", "color": "black", "dy": 1},
        "encoding": {"x": {"field": "xm", "type": "quantitative"}, "text": {"field": "lab"}, "size": {"condition": {"test": "datum.lab == '***'", "value": 17}, "value": 25}}},
       {"data": {"name": "Dsig"}, "transform": [{"aggregate": [{"op": "min", "field": "x1", "as": "xa"}, {"op": "max", "field": "v", "as": "v"}]}],
        "mark": {"type": "text", "align": "left", "baseline": "alphabetic", "fontSize": 64, "color": "black", "dx": -184.2, "dy": 55.9},
        "encoding": {"x": {"field": "xa", "type": "quantitative"}, "text": {"value": "D"}}}
      ]}
    ]},
   {"width": 836, "height": 73.5,
    "layer": [
     {"data": {"name": "CDtab"}, "mark": {"type": "text", "fontSize": 23, "color": "black"},
      "encoding": {
       "x": {"field": "i", "type": "quantitative", "scale": {"domain": [0.4, 8.6], "nice": false, "zero": false}, "axis": {"title": "L4", "labels": false, "ticks": false, "domain": false, "titleFontSize": 34, "titleFontWeight": "bold", "titleColor": "black", "titlePadding": 10}},
       "y": {"field": "r", "type": "nominal", "scale": {"domain": ["sign", "ul", "name"], "paddingInner": 0, "paddingOuter": 0}, "axis": {"title": null, "domain": false, "ticks": false, "labelAlign": "left", "labelPadding": 127.5, "labelOffset": 0, "labelFontSize": 23, "labelColor": "black", "labelLimit": 400, "labelLineHeight": 29, "labelExpr": "datum.value == 'sign' ? ['Metf 150 µM', '+ Sal 5 µM'] : ''"}},
       "text": {"field": "s"}}},
     {"data": {"name": "CDgrp"},
      "mark": {"type": "rule", "strokeWidth": 3.5, "color": "black", "xOffset": -8, "x2Offset": 11},
      "encoding": {"x": {"field": "a", "type": "quantitative"}, "x2": {"field": "b"}, "y": {"datum": "ul", "type": "nominal"}}},
     {"data": {"name": "CDgrp"}, "transform": [{"filter": "datum.name == 'empty vector'"}, {"fold": ["a", "b"], "as": ["k", "xv"]}, {"aggregate": [{"op": "mean", "field": "xv", "as": "xm"}], "groupby": ["name"]}],
      "mark": {"type": "text", "fontSize": 23, "color": "black", "dx": 1.5},
      "encoding": {"x": {"field": "xm", "type": "quantitative"}, "y": {"datum": "name", "type": "nominal"}, "text": {"field": "name"}}},
     {"data": {"name": "CDgrp"}, "transform": [{"filter": "datum.name != 'empty vector'"}, {"fold": ["a", "b"], "as": ["k", "xv"]}, {"aggregate": [{"op": "mean", "field": "xv", "as": "xm"}], "groupby": ["name"]}],
      "mark": {"type": "text", "fontSize": 23, "color": "black", "fontStyle": "italic", "dx": 1.5},
      "encoding": {"x": {"field": "xm", "type": "quantitative"}, "y": {"datum": "name", "type": "nominal"}, "text": {"field": "name"}}}
    ]}
  ], "spacing": 25}
 ]}
]
}
